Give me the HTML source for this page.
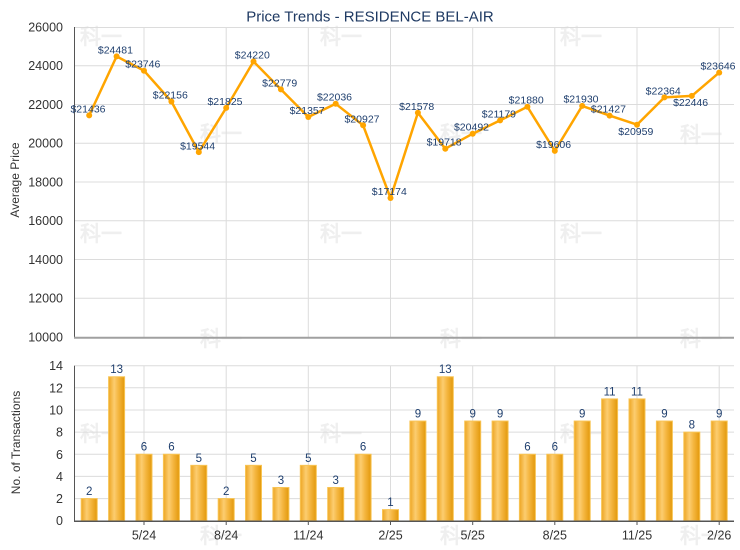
<!DOCTYPE html>
<html><head><meta charset="utf-8"><style>
html,body{margin:0;padding:0;background:#fff;}
svg{display:block;}
text{font-family:"Liberation Sans",Arial,sans-serif;}
.wm{font-family:"Noto Sans CJK SC","WenQuanYi Zen Hei",sans-serif;font-weight:bold;font-size:21px;fill:#efefef;}
.tk{font-size:12.5px;fill:#333;}
.dl{font-size:10.5px;fill:#1f3f6e;text-anchor:middle;}
.bl{font-size:11.5px;fill:#1f3f6e;text-anchor:middle;}
.g{stroke:#dcdcdc;stroke-width:1;}
</style></head><body>
<svg width="740" height="550" viewBox="0 0 740 550" xmlns="http://www.w3.org/2000/svg">
<defs>
<linearGradient id="bg" x1="0" y1="0" x2="1" y2="0">
<stop offset="0" stop-color="#eda522"/>
<stop offset="0.35" stop-color="#fccd70"/>
<stop offset="0.6" stop-color="#f5b742"/>
<stop offset="1" stop-color="#e2980a"/>
</linearGradient>
</defs>
<rect width="740" height="550" fill="#fff"/>
<!-- watermarks -->
<g class="wm">
<text x="80" y="44">科一</text><text x="320" y="44">科一</text><text x="560" y="44">科一</text>
<text x="200" y="141">科一</text><text x="440" y="141">科一</text><text x="680" y="142">科一</text>
<text x="80" y="241">科一</text><text x="320" y="241">科一</text><text x="560" y="241">科一</text>
<text x="200" y="346">科一</text><text x="440" y="346">科一</text><text x="680" y="346">科一</text>
<text x="80" y="441">科一</text><text x="320" y="441">科一</text><text x="560" y="441">科一</text>
<text x="200" y="543">科一</text><text x="440" y="543">科一</text><text x="680" y="543">科一</text>
</g>
<!-- title -->
<text x="370" y="21.5" text-anchor="middle" style="font-size:15px;fill:#1f3a63">Price Trends - RESIDENCE BEL-AIR</text>

<!-- TOP PANEL grid -->
<g class="g">
<line x1="74" y1="27.5" x2="734" y2="27.5"/>
<line x1="74" y1="65.75" x2="734" y2="65.75"/>
<line x1="74" y1="104.5" x2="734" y2="104.5"/>
<line x1="74" y1="143.25" x2="734" y2="143.25"/>
<line x1="74" y1="182" x2="734" y2="182"/>
<line x1="74" y1="220.75" x2="734" y2="220.75"/>
<line x1="74" y1="259.5" x2="734" y2="259.5"/>
<line x1="74" y1="298.25" x2="734" y2="298.25"/>
<line x1="144" y1="27" x2="144" y2="337"/>
<line x1="226.2" y1="27" x2="226.2" y2="337"/>
<line x1="308.3" y1="27" x2="308.3" y2="337"/>
<line x1="390.5" y1="27" x2="390.5" y2="337"/>
<line x1="472.7" y1="27" x2="472.7" y2="337"/>
<line x1="554.8" y1="27" x2="554.8" y2="337"/>
<line x1="637" y1="27" x2="637" y2="337"/>
<line x1="719.2" y1="27" x2="719.2" y2="337"/>
</g>
<line x1="74.5" y1="27" x2="74.5" y2="338" stroke="#555" stroke-width="1"/>
<line x1="74" y1="337.8" x2="734" y2="337.8" stroke="#a0a0a0" stroke-width="2"/>
<g class="tk" text-anchor="end">
<text x="63" y="31.5">26000</text>
<text x="63" y="70.2">24000</text>
<text x="63" y="109">22000</text>
<text x="63" y="147.7">20000</text>
<text x="63" y="186.5">18000</text>
<text x="63" y="225.2">16000</text>
<text x="63" y="264">14000</text>
<text x="63" y="302.7">12000</text>
<text x="63" y="341.5">10000</text>
</g>
<text transform="translate(19,180) rotate(-90)" text-anchor="middle" style="font-size:12px;fill:#333">Average Price</text>

<!-- line -->
<polyline fill="none" stroke="#ffa500" stroke-width="2.5" stroke-linejoin="round" points="89.2,115.4 116.6,56.4 144,70.7 171.4,101.5 198.8,152.1 226.2,107.9 253.5,61.5 280.9,89.4 308.3,117 335.7,103.8 363.1,125.3 390.5,198 417.9,112.7 445.3,148.7 472.7,133.7 500.1,120.4 527.4,106.8 554.8,150.9 582.2,105.9 609.6,115.6 637,124.7 664.4,97.4 691.8,95.9 719.2,72.6"/>
<g fill="#ffa500">
<circle cx="89.2" cy="115.4" r="3"/><circle cx="116.6" cy="56.4" r="3"/><circle cx="144" cy="70.7" r="3"/><circle cx="171.4" cy="101.5" r="3"/><circle cx="198.8" cy="152.1" r="3"/><circle cx="226.2" cy="107.9" r="3"/><circle cx="253.5" cy="61.5" r="3"/><circle cx="280.9" cy="89.4" r="3"/><circle cx="308.3" cy="117" r="3"/><circle cx="335.7" cy="103.8" r="3"/><circle cx="363.1" cy="125.3" r="3"/><circle cx="390.5" cy="198" r="3"/><circle cx="417.9" cy="112.7" r="3"/><circle cx="445.3" cy="148.7" r="3"/><circle cx="472.7" cy="133.7" r="3"/><circle cx="500.1" cy="120.4" r="3"/><circle cx="527.4" cy="106.8" r="3"/><circle cx="554.8" cy="150.9" r="3"/><circle cx="582.2" cy="105.9" r="3"/><circle cx="609.6" cy="115.6" r="3"/><circle cx="637" cy="124.7" r="3"/><circle cx="664.4" cy="97.4" r="3"/><circle cx="691.8" cy="95.9" r="3"/><circle cx="719.2" cy="72.6" r="3"/>
</g>
<g class="dl">
<text x="88" y="112.5">$21436</text>
<text x="115.4" y="53.6">$24481</text>
<text x="142.8" y="67.7">$23746</text>
<text x="170.3" y="98.5">$22156</text>
<text x="197.6" y="149.4">$19544</text>
<text x="225" y="105">$21825</text>
<text x="252.3" y="58.5">$24220</text>
<text x="279.7" y="86.4">$22779</text>
<text x="307.1" y="114.2">$21357</text>
<text x="334.5" y="100.6">$22036</text>
<text x="362" y="122.3">$20927</text>
<text x="389.3" y="195.2">$17174</text>
<text x="416.7" y="109.8">$21578</text>
<text x="444.1" y="145.7">$19718</text>
<text x="471.5" y="130.6">$20492</text>
<text x="498.9" y="117.4">$21179</text>
<text x="526.2" y="103.6">$21880</text>
<text x="553.6" y="147.8">$19606</text>
<text x="581" y="102.7">$21930</text>
<text x="608.4" y="112.5">$21427</text>
<text x="635.8" y="135.2">$20959</text>
<text x="663.2" y="94.3">$22364</text>
<text x="690.6" y="106.2">$22446</text>
<text x="718" y="69.4">$23646</text>
</g>

<!-- BOTTOM PANEL grid -->
<g class="g">
<line x1="74" y1="365.7" x2="734" y2="365.7"/>
<line x1="74" y1="387.8" x2="734" y2="387.8"/>
<line x1="74" y1="410" x2="734" y2="410"/>
<line x1="74" y1="432.1" x2="734" y2="432.1"/>
<line x1="74" y1="454.3" x2="734" y2="454.3"/>
<line x1="74" y1="476.4" x2="734" y2="476.4"/>
<line x1="74" y1="498.6" x2="734" y2="498.6"/>
<line x1="144" y1="365.7" x2="144" y2="520"/>
<line x1="226.2" y1="365.7" x2="226.2" y2="520"/>
<line x1="308.3" y1="365.7" x2="308.3" y2="520"/>
<line x1="390.5" y1="365.7" x2="390.5" y2="520"/>
<line x1="472.7" y1="365.7" x2="472.7" y2="520"/>
<line x1="554.8" y1="365.7" x2="554.8" y2="520"/>
<line x1="637" y1="365.7" x2="637" y2="520"/>
<line x1="719.2" y1="365.7" x2="719.2" y2="520"/>
</g>
<g fill="url(#bg)" stroke="#f8c454" stroke-width="1">
<rect x="81.2" y="498.56" width="16" height="22.14"/>
<rect x="108.6" y="376.77" width="16" height="143.93"/>
<rect x="136" y="454.27" width="16" height="66.43"/>
<rect x="163.4" y="454.27" width="16" height="66.43"/>
<rect x="190.8" y="465.34" width="16" height="55.36"/>
<rect x="218.2" y="498.56" width="16" height="22.14"/>
<rect x="245.5" y="465.34" width="16" height="55.36"/>
<rect x="272.9" y="487.49" width="16" height="33.21"/>
<rect x="300.3" y="465.34" width="16" height="55.36"/>
<rect x="327.7" y="487.49" width="16" height="33.21"/>
<rect x="355.1" y="454.27" width="16" height="66.43"/>
<rect x="382.5" y="509.63" width="16" height="11.07"/>
<rect x="409.9" y="421.06" width="16" height="99.64"/>
<rect x="437.3" y="376.77" width="16" height="143.93"/>
<rect x="464.7" y="421.06" width="16" height="99.64"/>
<rect x="492.1" y="421.06" width="16" height="99.64"/>
<rect x="519.4" y="454.27" width="16" height="66.43"/>
<rect x="546.8" y="454.27" width="16" height="66.43"/>
<rect x="574.2" y="421.06" width="16" height="99.64"/>
<rect x="601.6" y="398.91" width="16" height="121.79"/>
<rect x="629" y="398.91" width="16" height="121.79"/>
<rect x="656.4" y="421.06" width="16" height="99.64"/>
<rect x="683.8" y="432.13" width="16" height="88.57"/>
<rect x="711.2" y="421.06" width="16" height="99.64"/>
</g>
<g class="bl">
<text x="89.2" y="495">2</text>
<text x="116.6" y="373.2">13</text>
<text x="144" y="450.7">6</text>
<text x="171.4" y="450.7">6</text>
<text x="198.8" y="461.8">5</text>
<text x="226.2" y="495">2</text>
<text x="253.5" y="461.8">5</text>
<text x="280.9" y="483.9">3</text>
<text x="308.3" y="461.8">5</text>
<text x="335.7" y="483.9">3</text>
<text x="363.1" y="450.7">6</text>
<text x="390.5" y="506">1</text>
<text x="417.9" y="417.5">9</text>
<text x="445.3" y="373.2">13</text>
<text x="472.7" y="417.5">9</text>
<text x="500.1" y="417.5">9</text>
<text x="527.4" y="450.7">6</text>
<text x="554.8" y="450.7">6</text>
<text x="582.2" y="417.5">9</text>
<text x="609.6" y="395.3">11</text>
<text x="637" y="395.3">11</text>
<text x="664.4" y="417.5">9</text>
<text x="691.8" y="428.6">8</text>
<text x="719.2" y="417.5">9</text>
</g>
<line x1="74.5" y1="365.7" x2="74.5" y2="521.5" stroke="#555" stroke-width="1"/>
<line x1="74" y1="521.2" x2="734" y2="521.2" stroke="#555" stroke-width="1.5"/>
<g stroke="#555" stroke-width="1">
<line x1="144" y1="521" x2="144" y2="525"/>
<line x1="226.2" y1="521" x2="226.2" y2="525"/>
<line x1="308.3" y1="521" x2="308.3" y2="525"/>
<line x1="390.5" y1="521" x2="390.5" y2="525"/>
<line x1="472.7" y1="521" x2="472.7" y2="525"/>
<line x1="554.8" y1="521" x2="554.8" y2="525"/>
<line x1="637" y1="521" x2="637" y2="525"/>
<line x1="719.2" y1="521" x2="719.2" y2="525"/>
</g>
<g class="tk" text-anchor="end">
<text x="63" y="370.2">14</text>
<text x="63" y="392.3">12</text>
<text x="63" y="414.5">10</text>
<text x="63" y="436.6">8</text>
<text x="63" y="458.8">6</text>
<text x="63" y="480.9">4</text>
<text x="63" y="503.1">2</text>
<text x="63" y="525.2">0</text>
</g>
<g class="tk" text-anchor="middle">
<text x="144" y="539.5">5/24</text>
<text x="226.2" y="539.5">8/24</text>
<text x="308.3" y="539.5">11/24</text>
<text x="390.5" y="539.5">2/25</text>
<text x="472.7" y="539.5">5/25</text>
<text x="554.8" y="539.5">8/25</text>
<text x="637" y="539.5">11/25</text>
<text x="719.2" y="539.5">2/26</text>
</g>
<text transform="translate(20,442.5) rotate(-90)" text-anchor="middle" style="font-size:12px;fill:#333">No. of Transactions</text>
</svg>
</body></html>
